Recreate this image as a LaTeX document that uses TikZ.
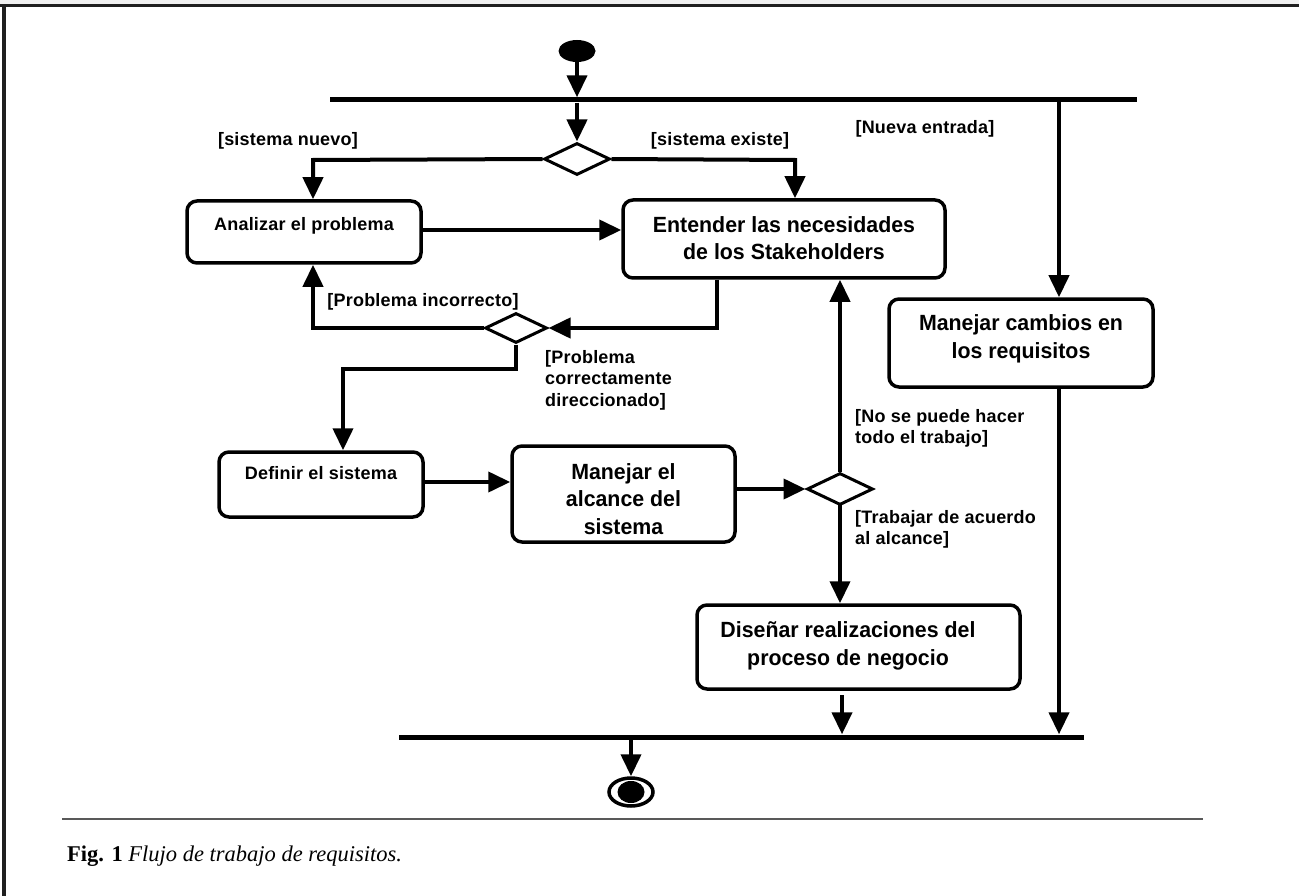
\documentclass[tikz,border=0pt]{standalone}
\usepackage{fontspec}
\setmainfont{Liberation Sans}
\newfontfamily\capfont{Liberation Serif}
\newfontfamily\condfont{Liberation Sans}[FakeStretch=0.97]
\newfontfamily\lblfont{Liberation Sans}[LetterSpace=1.2]
\usetikzlibrary{arrows.meta,shapes.geometric}
\begin{document}
\begin{tikzpicture}[x=1pt,y=-1pt,
  act/.style={draw, line width=3.5pt, rounded corners=10pt, inner sep=0pt},
  dec/.style={draw, line width=3pt, diamond, aspect=2, inner sep=0pt, minimum width=66pt, minimum height=32pt},
  barnode/.style={fill=black, inner sep=0pt, minimum height=5pt},
  wire/.style={line width=4pt, -{Triangle[length=22pt,width=20pt]}},
  lbl/.style={font=\lblfont\bfseries\fontsize{18}{21.5}\selectfont, inner sep=0pt, align=left},
  smalltxt/.style={font=\lblfont\bfseries\fontsize{18}{21}\selectfont, inner sep=0pt},
  bigtxt/.style={font=\condfont\bfseries\fontsize{22}{27.5}\selectfont, inner sep=0pt, align=center}
]
\useasboundingbox (0,0) rectangle (1299,896);
% frame
\fill[black!6] (0,0) rectangle (1299,4);
\draw[line width=3pt, black!88] (0,5.5) -- (1299,5.5);
\draw[line width=4pt, black!88] (4,5) -- (4,896);
\draw[line width=1.6pt, black!65] (62,819) -- (1203,819);
\node[anchor=base west, inner sep=0pt, font=\capfont\fontsize{22.5}{26}\selectfont] (cap) at (67,861)
  {\textbf{Fig. 1} \textit{Flujo de trabajo de requisitos.}};

% start / end
\node[ellipse, fill=black, inner sep=0pt, minimum width=37pt, minimum height=22pt] (start) at (577,51) {};
\node[ellipse, draw, line width=3.5pt, inner sep=0pt, minimum width=44pt, minimum height=28pt] (endn) at (631,792) {};
\node[ellipse, fill=black, inner sep=0pt, minimum width=27pt, minimum height=22pt] (endin) at (631,792) {};

% bars
\node[barnode, minimum width=807pt] (fork) at (733.5,100) {};
\node[barnode, minimum width=685pt] (join) at (741.5,737) {};

% decisions
\node[dec] (d1) at (577,159) {};
\node[dec, minimum width=62pt, minimum height=30pt] (d2) at (516,328) {};
\node[dec] (d3) at (840,489) {};

% activities
\node[act, minimum width=234pt, minimum height=62pt] (ana) at (304,232) {};
\node[smalltxt, anchor=base] (anat) at (304,230.5) {Analizar el problema};

\node[act, minimum width=322pt, minimum height=78pt] (ent) at (784,239) {};
\node[bigtxt] (entt) at (784,238) {Entender las necesidades\\de los Stakeholders};

\node[act, minimum width=264pt, minimum height=88pt] (chg) at (1021,343) {};
\node[bigtxt] (chgt) at (1021,339) {Manejar cambios en\\los requisitos};

\node[act, minimum width=204pt, minimum height=65pt] (def) at (321,484.5) {};
\node[smalltxt, anchor=base] (deft) at (321,479.5) {Definir el sistema};

\node[act, minimum width=223pt, minimum height=96pt] (alc) at (623.5,494) {};
\node[bigtxt] (alct) at (623.5,499) {Manejar el\\alcance del\\sistema};

\node[act, minimum width=323pt, minimum height=84pt] (dis) at (858.5,647) {};
\node[bigtxt] (dist) at (848,646) {Diseñar realizaciones del\\proceso de negocio};

% guard labels
\node[lbl, anchor=base] (g1) at (288,146) {[sistema nuevo]};
\node[lbl, anchor=base] (g2) at (720,146) {[sistema existe]};
\node[lbl, anchor=base] (g3) at (925,134) {[Nueva entrada]};
\node[lbl, anchor=base] (g4) at (423,306) {[Problema incorrecto]};
\node[lbl, anchor=north west] (g5) at (545,350) {[Problema\\correctamente\\direccionado]};
\node[lbl, anchor=north west] (g6) at (855,409) {[No se puede hacer\\todo el trabajo]};
\node[lbl, anchor=north west] (g7) at (855,510) {[Trabajar de acuerdo\\al alcance]};

% bend points
\coordinate (b1) at (313,160);
\coordinate (b2) at (795,160);
\coordinate (b3) at (1059,100);
\coordinate (b4) at (717,328);
\coordinate (b5) at (313,328);
\coordinate (b6) at (516,369);
\coordinate (b7) at (343,369);
\coordinate (b8) at (842,695);
\coordinate (b9) at (631,737);

% connectors
\draw[wire] (start.south) -- (start.south |- fork.north);
\draw[wire] (fork.south -| d1.north) -- (d1.north);
\draw[wire] (d1.west) -- (b1) -- (b1 |- ana.north);
\draw[wire] (d1.east) -- (b2) -- (b2 |- ent.north);
\draw[wire] (ana.east |- 0,230) -- (ent.west |- 0,230);
\draw[wire] (b3) -- (b3 |- chg.north);
\draw[wire] (b3 |- chg.south) -- (b3 |- join.north);
\draw[wire] (b4 |- ent.south) -- (b4) -- (d2.east);
\draw[wire] (d2.west) -- (b5) -- (b5 |- ana.south);
\draw[wire] (d2.south) -- (b6) -- (b7) -- (b7 |- def.north);
\draw[wire] (def.east |- 0,482) -- (alc.west |- 0,482);
\draw[wire] (alc.east |- d3.west) -- (d3.west);
\draw[wire] (d3.north) -- (d3.north |- ent.south);
\draw[wire] ([yshift=3pt]d3.south) -- (d3.south |- dis.north);
\draw[wire] (b8) -- (b8 |- join.north);
\draw[wire] (b9 |- join.south) -- (endn.north);
\end{tikzpicture}
\end{document}
